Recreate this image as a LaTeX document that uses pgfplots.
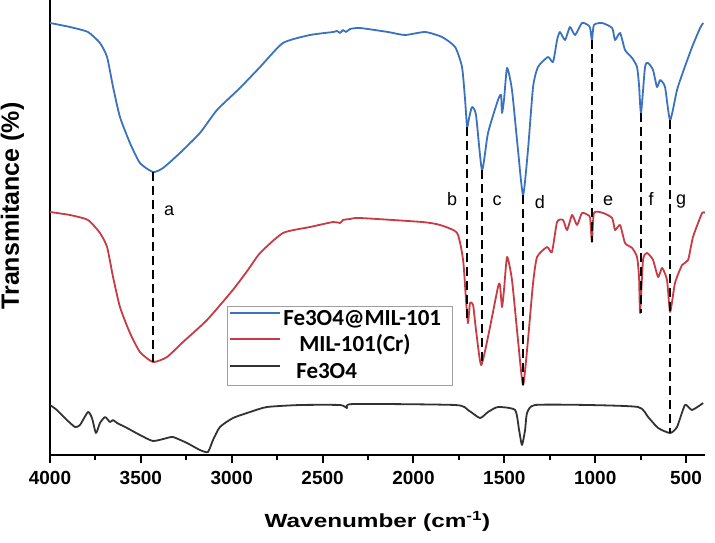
\documentclass[border=0pt]{standalone}
\usepackage{pgfplots}
\pgfplotsset{compat=1.18}
\usepackage{fontspec}
\usepackage{graphicx}
\setmainfont{Liberation Sans}
\newfontfamily\calibri{Carlito}
\definecolor{cblue}{RGB}{58,114,190}
\definecolor{cred}{RGB}{200,58,68}
\definecolor{cblack}{RGB}{50,50,50}
\begin{document}
\begin{tikzpicture}
\path[use as bounding box] (-50pt,-87pt) rectangle (665pt,455pt);
\begin{axis}[
  at={(0pt,0pt)}, anchor=south west,
  width=655pt, height=455pt, scale only axis,
  x dir=reverse, xmin=396, xmax=4000, ymin=-455, ymax=0,
  axis x line*=bottom, axis y line*=left,
  axis line style={line width=2.5pt,-},
  ytick=\empty,
  xtick={4000,3500,3000,2500,2000,1500,1000,500},
  xticklabels={4000,3500,3000,2500,2000,1500,1000,500},
  minor xtick={3750,3250,2750,2250,1750,1250,750},
  tick align=outside,
  major tick length=8pt, minor tick length=5pt,
  every tick/.style={black, line width=2pt},
  xticklabel style={font=\fontsize{19}{22}\selectfont\bfseries, yshift=-5pt},
  xlabel={\scalebox{1.28}[1]{\fontsize{19}{22}\selectfont\bfseries Wavenumber (cm\textsuperscript{-1})}},
  xlabel style={at={(axis description cs:0.5,0)}, anchor=base, yshift=-72pt},
  ylabel={\fontsize{25}{28}\selectfont\bfseries Transmitance (\%)},
  ylabel style={at={(axis description cs:-0.0573,0.547)}, anchor=center, rotate=0},
  legend style={at={(axis description cs:0.2702,0.3275)}, anchor=north west,
    draw=gray!75, line width=1pt, inner xsep=2pt, inner ysep=0pt,
    font=\calibri\bfseries\fontsize{23}{27}\selectfont,
    row sep=0pt, column sep=2pt,
    nodes={inner xsep=0pt, inner ysep=0pt, text height=19pt, text depth=7.5pt}},
  legend cell align=left,
  legend image code/.code={\draw[#1, line width=1.8pt] (0pt,7pt) -- (50pt,7pt);},
  every axis plot/.append style={smooth, tension=0.35, line join=round},
]
\addplot[cblue, line width=1.8pt] coordinates {
(4000,-23)(3890,-27)(3791,-32)(3725,-43)(3686,-57)(3653,-87)(3615,-117)(3560,-143)(3505,-163)(3433,-172)(3378,-168)(3285,-153)(3175,-133)(3081,-110)(2955,-88)(2844,-67)(2718,-43)(2569,-35)(2442,-32)(2420,-31)(2404,-33)(2388,-30)(2371,-32)(2349,-29)(2294,-28)(2140,-32)(2047,-35)(1936,-32)(1843,-37)(1771,-47)(1733,-67)(1716,-100)(1705,-127)(1694,-118)(1678,-107)(1656,-115)(1623,-170)(1590,-133)(1535,-100)(1518,-95)(1513,-113)(1502,-100)(1485,-68)(1458,-90)(1425,-150)(1397,-195)(1370,-150)(1342,-87)(1315,-67)(1260,-57)(1232,-62)(1210,-40)(1194,-32)(1166,-40)(1139,-27)(1111,-35)(1073,-23)(1040,-25)(1028,-28)(1018,-40)(1007,-25)(962,-23)(907,-28)(891,-40)(863,-33)(836,-50)(797,-58)(770,-67)(759,-85)(748,-113)(726,-67)(709,-63)(682,-70)(660,-87)(643,-80)(616,-87)(588,-120)(550,-90)(517,-72)(467,-47)(423,-28)(406,-23)
};
\addlegendentry{Fe3O4@MIL-101\rule{9pt}{0pt}}
\addplot[cred, line width=1.8pt] coordinates {
(4000,-212)(3890,-215)(3791,-220)(3725,-233)(3686,-247)(3653,-277)(3615,-307)(3560,-333)(3505,-352)(3433,-362)(3356,-357)(3268,-342)(3136,-320)(2994,-290)(2911,-270)(2844,-253)(2718,-233)(2569,-227)(2442,-222)(2404,-223)(2388,-220)(2349,-219)(2294,-218)(1953,-222)(1854,-225)(1760,-233)(1727,-260)(1711,-300)(1700,-323)(1689,-303)(1672,-305)(1656,-330)(1628,-365)(1590,-337)(1535,-287)(1524,-285)(1513,-307)(1502,-290)(1485,-257)(1458,-280)(1425,-340)(1397,-385)(1370,-340)(1342,-283)(1320,-257)(1265,-247)(1238,-252)(1210,-222)(1177,-220)(1155,-230)(1127,-215)(1100,-225)(1073,-213)(1040,-215)(1028,-218)(1018,-242)(1007,-213)(957,-213)(907,-218)(891,-230)(863,-225)(836,-243)(797,-248)(770,-257)(759,-277)(753,-313)(737,-260)(715,-253)(682,-260)(654,-277)(632,-268)(605,-280)(588,-312)(561,-283)(522,-265)(489,-260)(462,-237)(412,-213)(396,-213)
};
\addlegendentry{\hspace{16pt}MIL-101(Cr)}
\addplot[cblack, line width=1.8pt] coordinates {
(4000,-405)(3962,-410)(3907,-420)(3862,-427)(3835,-425)(3791,-412)(3769,-418)(3747,-433)(3725,-423)(3697,-417)(3670,-422)(3653,-420)(3631,-423)(3576,-428)(3505,-435)(3433,-441)(3356,-438)(3323,-437)(3246,-443)(3175,-450)(3131,-452)(3103,-440)(3065,-427)(2993,-418)(2899,-412)(2806,-407)(2624,-405)(2404,-405)(2366,-408)(2333,-404)(1771,-405)(1700,-410)(1634,-418)(1590,-412)(1535,-407)(1441,-410)(1419,-430)(1403,-445)(1386,-430)(1375,-413)(1331,-405)(1040,-405)(764,-407)(709,-417)(654,-428)(588,-433)(550,-427)(506,-405)(467,-410)(406,-403)
};
\addlegendentry{\hspace{13pt}Fe3O4}
% dashed guide lines
\addplot[black, sharp plot, line width=2.4pt, dash pattern=on 9pt off 5pt, forget plot] coordinates {(3433,-172)(3433,-362)};
\addplot[black, sharp plot, line width=2.4pt, dash pattern=on 9pt off 5pt, forget plot] coordinates {(1705,-127)(1705,-323)};
\addplot[black, sharp plot, line width=2.4pt, dash pattern=on 9pt off 5pt, forget plot] coordinates {(1623,-170)(1623,-365)};
\addplot[black, sharp plot, line width=2.4pt, dash pattern=on 9pt off 5pt, forget plot] coordinates {(1397,-195)(1397,-385)};
\addplot[black, sharp plot, line width=2.4pt, dash pattern=on 9pt off 5pt, forget plot] coordinates {(1018,-40)(1018,-242)};
\addplot[black, sharp plot, line width=2.4pt, dash pattern=on 9pt off 5pt, forget plot] coordinates {(748,-113)(748,-313)};
\addplot[black, sharp plot, line width=2.4pt, dash pattern=on 9pt off 5pt, forget plot] coordinates {(588,-120)(588,-433)};
\node[font=\fontsize{18}{20}\selectfont, anchor=base] at (axis cs:3345,-215) {a};
\node[font=\fontsize{18}{20}\selectfont, anchor=base] at (axis cs:1788,-205) {b};
\node[font=\fontsize{18}{20}\selectfont, anchor=base] at (axis cs:1540,-205) {c};
\node[font=\fontsize{18}{20}\selectfont, anchor=base] at (axis cs:1304,-208) {d};
\node[font=\fontsize{18}{20}\selectfont, anchor=base] at (axis cs:929,-205) {e};
\node[font=\fontsize{18}{20}\selectfont, anchor=base] at (axis cs:693,-205) {f};
\node[font=\fontsize{18}{20}\selectfont, anchor=base] at (axis cs:528,-204) {g};
\end{axis}
\end{tikzpicture}
\end{document}
